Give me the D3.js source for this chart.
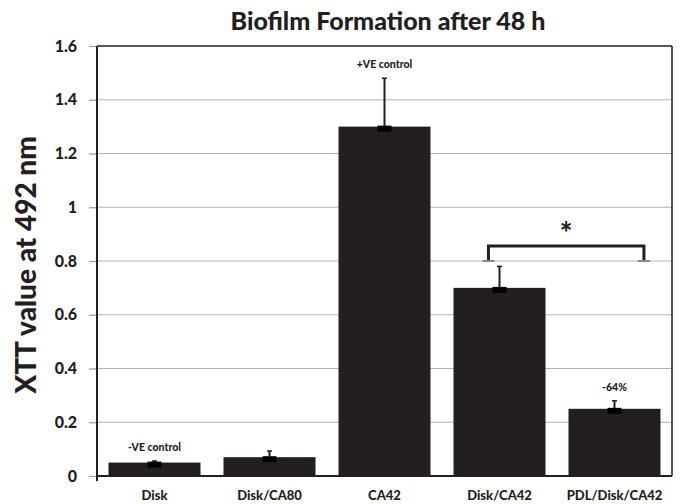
<!DOCTYPE html>
<html>
<head>
<meta charset="utf-8">
<script src="https://cdn.jsdelivr.net/npm/d3@7"></script>
<style>
  body { margin: 0; background: #fff; }
  text { font-family: Lato, "Open Sans", sans-serif; font-weight: 900; fill: #231f20; }
</style>
</head>
<body>
<div id="wrapper"></div>
<script>
const categories = ["Disk", "Disk/CA80", "CA42", "Disk/CA42", "PDL/Disk/CA42"];
const values = [0.05, 0.07, 1.3, 0.7, 0.25];
const errors = [0.006, 0.023, 0.18, 0.08, 0.03];
const barNotes = ["-VE control", "", "+VE control", "", "-64%"];
const yTicks = [0, 0.2, 0.4, 0.6, 0.8, 1, 1.2, 1.4, 1.6];

const dimensions = {
    width: 680,
    height: 504,
    margin: { top: 46, right: 8, bottom: 28, left: 97 },
};
dimensions.boundedWidth = dimensions.width - dimensions.margin.left - dimensions.margin.right;
dimensions.boundedHeight = dimensions.height - dimensions.margin.top - dimensions.margin.bottom;

const svg = d3.select("#wrapper").append("svg")
    .attr("width", dimensions.width)
    .attr("height", dimensions.height);

const bounds = svg.append("g")
    .attr("transform", `translate(${dimensions.margin.left},${dimensions.margin.top})`);

const xScale = d3.scaleBand()
    .domain(categories)
    .range([0, dimensions.boundedWidth])
    .paddingInner(0.2)
    .paddingOuter(0.1);

const yScale = d3.scaleLinear()
    .domain([0, 1.6])
    .range([dimensions.boundedHeight, 0]);

// grid lines
bounds.append("g")
    .selectAll("line")
    .data(yTicks.slice(1, -1))
    .join("line")
    .attr("x1", 0)
    .attr("x2", dimensions.boundedWidth)
    .attr("y1", d => yScale(d))
    .attr("y2", d => yScale(d))
    .attr("stroke", "#b3b3b3")
    .attr("stroke-width", 1);

// y axis
const yAxis = bounds.append("g")
    .call(d3.axisLeft(yScale).tickValues(yTicks).tickFormat(d3.format("")).tickSize(8).tickPadding(12));
yAxis.select(".domain").remove();
yAxis.selectAll(".tick line").attr("stroke", "#999").attr("stroke-width", 1.2);
yAxis.selectAll(".tick text")
    .style("font-size", "16px")
    .attr("fill", "#231f20");

// plot frame
bounds.append("line")
    .attr("x1", 0).attr("x2", dimensions.boundedWidth)
    .attr("y1", 0).attr("y2", 0)
    .attr("stroke", "#231f20").attr("stroke-width", 1.5);
bounds.append("line")
    .attr("x1", dimensions.boundedWidth).attr("x2", dimensions.boundedWidth)
    .attr("y1", 0).attr("y2", dimensions.boundedHeight)
    .attr("stroke", "#231f20").attr("stroke-width", 1.5);

// bars
bounds.append("g")
    .selectAll("rect")
    .data(values)
    .join("rect")
    .attr("x", (d, i) => xScale(categories[i]))
    .attr("y", d => yScale(d))
    .attr("width", xScale.bandwidth())
    .attr("height", d => dimensions.boundedHeight - yScale(d))
    .attr("fill", "#231f20");

// error bars
const errG = bounds.append("g");
values.forEach((v, i) => {
    const cx = xScale(categories[i]) + xScale.bandwidth() / 2;
    errG.append("line")
        .attr("x1", cx).attr("x2", cx)
        .attr("y1", yScale(v)).attr("y2", yScale(v + errors[i]))
        .attr("stroke", "#231f20").attr("stroke-width", 2);
    errG.append("line")
        .attr("x1", cx - 2.5).attr("x2", cx + 2.5)
        .attr("y1", yScale(v + errors[i])).attr("y2", yScale(v + errors[i]))
        .attr("stroke", "#231f20").attr("stroke-width", 1.5);
    errG.append("rect")
        .attr("x", cx - 7).attr("y", yScale(v) - 1)
        .attr("width", 14).attr("height", 6)
        .attr("fill", "#000");
});

// bar notes
bounds.append("g")
    .selectAll("text")
    .data(barNotes)
    .join("text")
    .attr("x", (d, i) => xScale(categories[i]) + xScale.bandwidth() / 2)
    .attr("y", (d, i) => yScale(values[i] + errors[i]) - 10)
    .attr("text-anchor", "middle")
    .style("font-size", "10.5px")
    .text(d => d);

// x axis
bounds.append("line")
    .attr("x1", 0).attr("x2", dimensions.boundedWidth)
    .attr("y1", dimensions.boundedHeight).attr("y2", dimensions.boundedHeight)
    .attr("stroke", "#231f20").attr("stroke-width", 2);
bounds.append("line")
    .attr("x1", 0).attr("x2", 0)
    .attr("y1", 0).attr("y2", dimensions.boundedHeight + 5)
    .attr("stroke", "#231f20").attr("stroke-width", 2);

bounds.append("g")
    .selectAll("text")
    .data(categories)
    .join("text")
    .attr("x", d => xScale(d) + xScale.bandwidth() / 2)
    .attr("y", dimensions.boundedHeight + 24)
    .attr("text-anchor", "middle")
    .style("font-size", "13px")
    .text(d => d);

// significance bracket between Disk/CA42 and PDL/Disk/CA42
const bx1 = xScale("Disk/CA42") + xScale.bandwidth() * 0.38;
const bx2 = xScale("PDL/Disk/CA42") + xScale.bandwidth() * 0.82;
const bTop = yScale(0.8) - 15;
const bBot = yScale(0.8);
bounds.append("path")
    .attr("d", `M${bx1},${bBot - 1}V${bTop}H${bx2}V${bBot - 1}`)
    .attr("fill", "none")
    .attr("stroke", "#231f20")
    .attr("stroke-width", 3);
[bx1, bx2].forEach(x => {
    bounds.append("line")
        .attr("x1", x - 6).attr("x2", x + 6)
        .attr("y1", bBot).attr("y2", bBot)
        .attr("stroke", "#888").attr("stroke-width", 2);
});
bounds.append("text")
    .attr("x", (bx1 + bx2) / 2)
    .attr("y", bTop - 2)
    .attr("text-anchor", "middle")
    .style("font-size", "30px")
    .text("*");

// titles
svg.append("text")
    .attr("x", 388)
    .attr("y", 30)
    .attr("text-anchor", "middle")
    .style("font-size", "25px")
    .text("Biofilm Formation after 48 h");

svg.append("text")
    .attr("transform", `translate(36, ${dimensions.margin.top + dimensions.boundedHeight / 2 + 4}) rotate(-90)`)
    .attr("text-anchor", "middle")
    .style("font-size", "28px")
    .text("XTT value at 492 nm");
</script>
</body>
</html>
